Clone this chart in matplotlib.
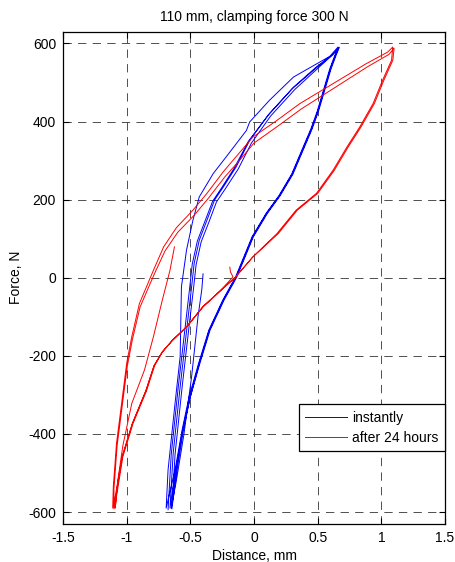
import matplotlib
matplotlib.use('Agg')
import matplotlib.pyplot as plt
import numpy as np

# "instantly" loop, traced per branch (distance in mm, force in N)
blue_start_x = [-0.40, -0.41, -0.44, -0.49, -0.55, -0.61, -0.65]
blue_start_y = [10, -30, -100, -253, -400, -520, -590]

blue_load_1_x = [-0.65, -0.61, -0.56, -0.505, -0.43, -0.35, -0.24, -0.14, -0.01, 0.10, 0.20, 0.30, 0.385, 0.45, 0.50, 0.55, 0.60, 0.64, 0.66]
blue_load_1_y = [-590, -492, -390, -305, -219, -134, -57, 2, 105, 165, 210, 265, 330, 380, 425, 480, 535, 570, 591]

blue_unload_1_x = [0.66, 0.595, 0.31, 0.12, -0.034, -0.06, -0.22, -0.32, -0.43, -0.48, -0.53, -0.57, -0.58, -0.62, -0.675, -0.69]
blue_unload_1_y = [591, 567, 514, 454, 399, 377, 309, 267, 207, 147, 71, -23, -202, -321, -492, -590]

blue_load_2_x = [-0.69, -0.62, -0.565, -0.51, -0.435, -0.355, -0.245, -0.145, -0.015, 0.095, 0.195, 0.295, 0.38, 0.445, 0.495, 0.545, 0.595, 0.635, 0.665]
blue_load_2_y = [-590, -492, -390, -305, -219, -134, -57, 2, 105, 165, 210, 265, 330, 380, 425, 480, 535, 570, 588]

blue_unload_2_x = [0.665, 0.61, 0.49, 0.31, 0.12, -0.034, -0.14, -0.24, -0.31, -0.37, -0.43, -0.47, -0.49, -0.52, -0.58, -0.635, -0.66]
blue_unload_2_y = [588, 570, 540, 488, 420, 352, 284, 233, 199, 147, 96, 37, -23, -108, -279, -450, -590]

blue_load_3_x = [-0.66, -0.615, -0.56, -0.50, -0.425, -0.345, -0.235, -0.135, -0.005, 0.105, 0.205, 0.305, 0.39, 0.455, 0.505, 0.555, 0.605, 0.645, 0.67]
blue_load_3_y = [-590, -492, -390, -305, -219, -134, -57, 2, 105, 165, 210, 265, 330, 380, 425, 480, 535, 570, 590]

blue_unload_3_x = [0.67, 0.62, 0.50, 0.32, 0.13, -0.02, -0.125, -0.225, -0.295, -0.355, -0.415, -0.455, -0.475, -0.505, -0.565, -0.62, -0.645]
blue_unload_3_y = [590, 572, 536, 482, 414, 345, 278, 228, 194, 142, 92, 33, -27, -110, -281, -452, -592]

blue_load_4_x = [-0.645, -0.605, -0.555, -0.50, -0.43, -0.35, -0.24, -0.14, -0.01, 0.10, 0.20, 0.30, 0.385, 0.45, 0.50, 0.55, 0.60, 0.64, 0.665]
blue_load_4_y = [-592, -492, -390, -305, -219, -134, -57, 2, 105, 165, 210, 265, 330, 380, 425, 480, 535, 570, 589]

blue_unload_4_x = [0.665, 0.60, 0.48, 0.30, 0.11, -0.045, -0.155, -0.255, -0.325, -0.385, -0.445, -0.485, -0.505, -0.535, -0.595, -0.65, -0.675]
blue_unload_4_y = [589, 566, 535, 484, 416, 349, 281, 230, 196, 145, 94, 35, -25, -110, -280, -452, -594]

# "after 24 hours" loop
red_start_x = [-0.625, -0.66, -0.72, -0.79, -0.86, -0.96, -1.03, -1.07, -1.09]
red_start_y = [79, 19, -57, -151, -236, -322, -430, -520, -590]

red_load_1_x = [-1.09, -1.08, -1.03, -0.95, -0.845, -0.78, -0.72, -0.64, -0.53, -0.40, -0.27, -0.15, -0.01, 0.18, 0.33, 0.49, 0.62, 0.73, 0.83, 0.935, 1.01, 1.08, 1.09]
red_load_1_y = [-590, -560, -458, -373, -290, -225, -190, -160, -126, -74, -35, 0, 53, 113, 173, 216, 275, 335, 386, 446, 506, 557, 591]

red_unload_1_x = [1.09, 1.05, 0.88, 0.62, 0.36, 0.18, -0.01, -0.12, -0.24, -0.37, -0.48, -0.61, -0.71, -0.79, -0.90, -0.96, -1.00, -1.04, -1.08, -1.105, -1.11]
red_unload_1_y = [591, 578, 548, 497, 446, 403, 360, 318, 272, 216, 173, 128, 79, 19, -66, -151, -219, -322, -424, -535, -590]

red_load_2_x = [-1.11, -1.09, -1.035, -0.955, -0.85, -0.785, -0.72, -0.64, -0.53, -0.40, -0.27, -0.15, -0.01, 0.19, 0.34, 0.50, 0.63, 0.74, 0.84, 0.945, 1.02, 1.09, 1.10]
red_load_2_y = [-590, -560, -458, -373, -290, -225, -190, -160, -126, -74, -35, 0, 53, 113, 173, 216, 275, 335, 386, 446, 506, 557, 588]

red_unload_2_x = [1.10, 1.06, 0.89, 0.63, 0.37, 0.19, 0.00, -0.11, -0.23, -0.36, -0.47, -0.60, -0.70, -0.785, -0.895, -0.955, -0.995, -1.035, -1.075, -1.10, -1.10]
red_unload_2_y = [588, 572, 540, 486, 432, 389, 345, 302, 258, 203, 160, 116, 68, 8, -75, -158, -226, -328, -430, -540, -592]

red_end_x = [-1.10, -1.085, -1.035, -0.955, -0.85, -0.785, -0.72, -0.64, -0.53, -0.40, -0.27, -0.165, -0.185, -0.19]
red_end_y = [-592, -560, -458, -373, -290, -225, -190, -160, -126, -74, -35, 2, 15, 27]

x_ticks = [-1.5, -1, -0.5, 0, 0.5, 1, 1.5]
x_tick_labels = ['-1.5', '-1', '-0.5', '0', '0.5', '1', '1.5']
y_ticks = [-600, -400, -200, 0, 200, 400, 600]

blue_x = np.concatenate([blue_start_x, blue_load_1_x, blue_unload_1_x, blue_load_2_x, blue_unload_2_x,
                         blue_load_3_x, blue_unload_3_x, blue_load_4_x, blue_unload_4_x])
blue_y = np.concatenate([blue_start_y, blue_load_1_y, blue_unload_1_y, blue_load_2_y, blue_unload_2_y,
                         blue_load_3_y, blue_unload_3_y, blue_load_4_y, blue_unload_4_y])
red_x = np.concatenate([red_start_x, red_load_1_x, red_unload_1_x, red_load_2_x, red_unload_2_x, red_end_x])
red_y = np.concatenate([red_start_y, red_load_1_y, red_unload_1_y, red_load_2_y, red_unload_2_y, red_end_y])

plt.rcParams['font.family'] = ['Liberation Sans', 'DejaVu Sans']
plt.rcParams['lines.scale_dashes'] = False
plt.rcParams['axes.unicode_minus'] = False

fig = plt.figure(figsize=(4.56, 5.62), dpi=100)
ax = fig.add_axes([0.1382, 0.0681, 0.8377, 0.8754])

ax.plot(blue_x, blue_y, color='#0000ff', linewidth=0.7, label='instantly')
ax.plot(red_x, red_y, color='#ff0000', linewidth=0.7, label='after 24 hours')

ax.set_xlim(-1.5, 1.5)
ax.set_ylim(-630, 630)
ax.set_xticks(x_ticks)
ax.set_xticklabels(x_tick_labels)
ax.set_yticks(y_ticks)
ax.tick_params(direction='in', top=True, right=True, length=4, width=0.8, labelsize=10, pad=5)
ax.grid(True, color='0.2', linestyle=(0, (6, 4.5)), linewidth=0.6)
for s in ax.spines.values():
    s.set_linewidth(0.9)

ax.set_xlabel('Distance, mm', fontsize=10, labelpad=3)
ax.set_ylabel('Force, N', fontsize=10, labelpad=4)
ax.set_title('110 mm, clamping force 300 N', fontsize=10, pad=8)

leg = ax.legend(loc='upper right', bbox_to_anchor=(1.0, 0.2427), borderaxespad=0,
                fancybox=False, framealpha=1, edgecolor='k', fontsize=10,
                handlelength=3.0, handletextpad=0.4, labelspacing=0.45, borderpad=0.45)
leg.get_frame().set_linewidth(0.9)

fig.savefig('out.png', dpi=100)
